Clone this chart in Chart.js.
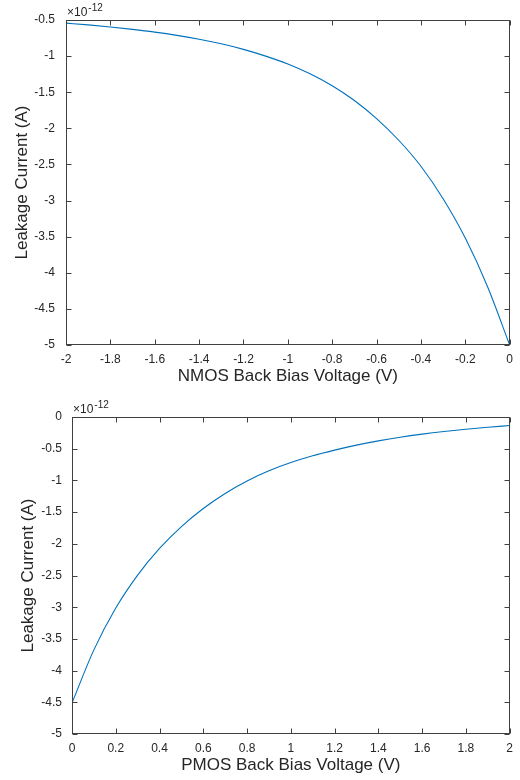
<!DOCTYPE html>
<html>
<head>
<meta charset="utf-8">
<script src="https://cdn.jsdelivr.net/npm/chart.js@4"></script>
<style>
  body { margin: 0; background: #fff; }
  .wrap { position: absolute; left: 0; width: 520px; height: 390px; }
</style>
</head>
<body>
<div class="wrap" style="top:0"><canvas id="nmos" width="520" height="390"></canvas></div>
<div class="wrap" style="top:390px"><canvas id="pmos" width="520" height="390"></canvas></div>
<script>
// valores, corriente en unidades de 1e-12 A
const nmosVoltage = [-2, -1.9, -1.8, -1.7, -1.6, -1.5, -1.4, -1.3, -1.2, -1.1, -1, -0.9, -0.8, -0.7, -0.6, -0.5, -0.4, -0.3, -0.2, -0.1, 0];
const nmosCurrent = [-0.543, -0.568, -0.597, -0.63, -0.668, -0.713, -0.766, -0.83, -0.907, -1.0, -1.11, -1.245, -1.41, -1.615, -1.865, -2.165, -2.525, -2.975, -3.52, -4.19, -5.0];

const pmosVoltage = [0, 0.1, 0.2, 0.3, 0.4, 0.5, 0.6, 0.7, 0.8, 0.9, 1, 1.1, 1.2, 1.3, 1.4, 1.5, 1.6, 1.7, 1.8, 1.9, 2];
const pmosCurrent = [-4.51, -3.673, -3.013, -2.493, -2.073, -1.728, -1.443, -1.206, -1.009, -0.849, -0.719, -0.612, -0.523, -0.444, -0.377, -0.319, -0.27, -0.228, -0.192, -0.162, -0.135];

const yLabel = 'Leakage Current (A)';
const nmosXLabel = 'NMOS Back Bias Voltage (V)';
const pmosXLabel = 'PMOS Back Bias Voltage (V)';
const expBase = '\u00d710';
const expPower = '-12';

const fontFamily = '"Liberation Sans", Arial, Helvetica, sans-serif';
const textColor = '#262626';
const axisColor = '#404040';
const lineColor = '#0072BD';

// caja estilo matlab con marcas hacia adentro
const boxPlugin = {
    id: 'box',
    afterDraw(chart) {
        const { ctx, chartArea: a, scales } = chart;
        const l = Math.round(a.left) + 0.5;
        const r = Math.round(a.right) - 0.5;
        const t = Math.round(a.top) + 0.5;
        const b = Math.round(a.bottom) - 0.5;
        const len = 5;
        ctx.save();
        ctx.strokeStyle = axisColor;
        ctx.lineWidth = 1;
        ctx.strokeRect(l, t, r - l, b - t);
        ctx.beginPath();
        scales.x.ticks.forEach(tk => {
            const px = Math.round(scales.x.getPixelForValue(tk.value)) + 0.5;
            ctx.moveTo(px, b); ctx.lineTo(px, b - len);
            ctx.moveTo(px, t); ctx.lineTo(px, t + len);
        });
        scales.y.ticks.forEach(tk => {
            const py = Math.round(scales.y.getPixelForValue(tk.value)) + 0.5;
            ctx.moveTo(l, py); ctx.lineTo(l + len, py);
            ctx.moveTo(r, py); ctx.lineTo(r - len, py);
        });
        ctx.stroke();

        // etiqueta del exponente
        ctx.fillStyle = textColor;
        ctx.textBaseline = 'alphabetic';
        ctx.textAlign = 'left';
        ctx.font = '12px ' + fontFamily;
        const base = a.top - 4;
        ctx.fillText(expBase, a.left + 1, base);
        const w = ctx.measureText(expBase).width;
        ctx.font = '10px ' + fontFamily;
        ctx.fillText(expPower, a.left + 2 + w, base - 5);
        ctx.restore();
    }
};

function fmt(v) {
    return String(Math.round(v * 10) / 10);
}

function makeChart(id, xs, ys, opts) {
    const ctx = document.getElementById(id).getContext('2d');
    return new Chart(ctx, {
        type: 'line',
        data: {
            datasets: [{
                data: xs.map((x, i) => ({ x: x, y: ys[i] })),
                borderColor: lineColor,
                borderWidth: 1.1,
                pointRadius: 0,
                cubicInterpolationMode: 'monotone',
                fill: false
            }]
        },
        options: {
            responsive: false,
            animation: false,
            devicePixelRatio: 1,
            layout: { padding: { left: 0, right: 4, top: opts.top, bottom: 0 } },
            plugins: { legend: { display: false }, tooltip: { enabled: false } },
            scales: {
                x: {
                    type: 'linear',
                    min: opts.xMin,
                    max: opts.xMax,
                    grid: { display: false, drawTicks: false },
                    border: { display: false },
                    ticks: {
                        stepSize: 0.2,
                        autoSkip: false,
                        maxRotation: 0,
                        padding: 7,
                        color: textColor,
                        font: { family: fontFamily, size: 12 },
                        callback: fmt
                    },
                    title: {
                        display: true,
                        text: opts.xLabel,
                        color: textColor,
                        font: { family: fontFamily, size: 17 },
                        padding: { top: 0, bottom: opts.xTitlePad }
                    },
                    afterFit(scale) { scale.height = opts.xHeight; }
                },
                y: {
                    type: 'linear',
                    min: -5,
                    max: opts.yMax,
                    grid: { display: false, drawTicks: false },
                    border: { display: false },
                    ticks: {
                        stepSize: 0.5,
                        autoSkip: false,
                        padding: opts.yTickPad,
                        color: textColor,
                        font: { family: fontFamily, size: 12 },
                        callback: fmt
                    },
                    title: {
                        display: true,
                        text: yLabel,
                        color: textColor,
                        font: { family: fontFamily, size: 17 },
                        padding: { top: opts.yTitlePad, bottom: 0 }
                    },
                    afterFit(scale) { scale.width = opts.yWidth; }
                }
            }
        },
        plugins: [boxPlugin]
    });
}

makeChart('nmos', nmosVoltage, nmosCurrent, {
    xMin: -2, xMax: 0, yMax: -0.5, xLabel: nmosXLabel,
    top: 20, xHeight: 45, yWidth: 66, yTickPad: 11, yTitlePad: 12, xTitlePad: 3
});

makeChart('pmos', pmosVoltage, pmosCurrent, {
    xMin: 0, xMax: 2, yMax: 0, xLabel: pmosXLabel,
    top: 27, xHeight: 46, yWidth: 72, yTickPad: 10, yTitlePad: 18, xTitlePad: 4
});
</script>
</body>
</html>
